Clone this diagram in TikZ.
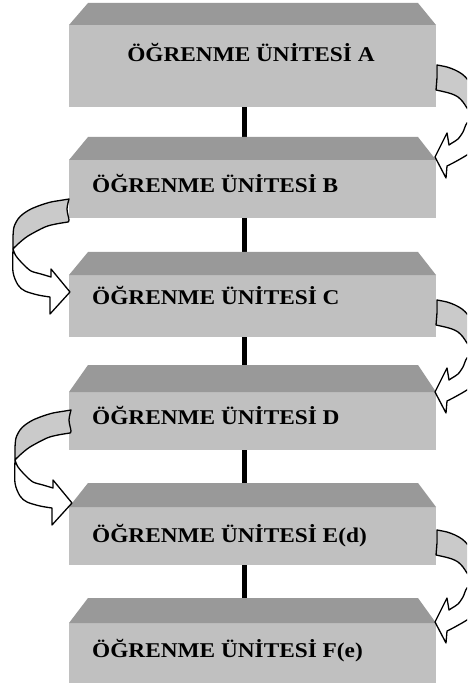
\documentclass[tikz,border=0pt]{standalone}
\usepackage{fontspec}
\setmainfont{Liberation Serif}
\usetikzlibrary{calc}
\definecolor{facegray}{RGB}{192,192,192}
\definecolor{topgray}{RGB}{153,153,153}
\definecolor{ribbongray}{RGB}{202,202,202}
\tikzset{
  face/.style={fill=facegray, draw=none, inner sep=0pt, outer sep=0pt,
    minimum width=367pt, anchor=north west},
  lbl/.style={font=\fontsize{21}{24}\selectfont\bfseries, inner sep=0pt},
  link/.style={line width=5.5pt},
  ribbon/.style={fill=ribbongray, draw=black, line width=1.3pt, line join=round},
  ribbonfront/.style={fill=white, draw=black, line width=1.3pt, line join=round},
  % twisted ribbon arrow on the right side; pic origin = arrow tip
  pics/turnright/.style={code={
    \path[ribbon] plot[smooth] coordinates {(2,-92) (12,-90) (20,-87) (27,-83) (33,-77) (38,-67) (41,-52) (41,-39)}
      -- plot[smooth] coordinates {(41,-39) (37,-43) (32,-49) (28,-55) (23,-60) (17,-63) (10,-65) (1,-67)}
      -- plot[smooth] coordinates {(1,-67) (2,-80) (2,-92)} -- cycle;
    \path[ribbonfront] (41,-39)
      -- plot[smooth] coordinates {(41,-39) (32,-34) (28,-25) (23,-18) (17,-14) (14,-12)}
      -- (12,-24) -- (0,0) -- (11,21) -- (12,9)
      -- plot[smooth] coordinates {(12,9) (18,6) (27,1) (32,-2) (38,-11) (41,-25) (41,-39)} -- cycle;
  }},
  % twisted ribbon arrow on the left side; pic origin = arrow tip
  pics/turnleft/.style={code={
    \path[ribbon] plot[smooth] coordinates {(-1,-93) (-7,-92) (-19,-90) (-29,-87) (-39,-83) (-47,-78) (-52,-73) (-56,-65) (-57,-55) (-57,-43)}
      -- plot[smooth] coordinates {(-57,-43) (-52,-48) (-42,-56) (-25,-65) (-14,-68) (-2,-70)}
      -- plot[smooth] coordinates {(-2,-70) (-1,-72) (-3,-83) (-1,-93)} -- cycle;
    \path[ribbonfront] (-57,-43)
      -- plot[smooth] coordinates {(-57,-43) (-57,-20) (-52,-7) (-45,-1) (-32,3) (-20,5)}
      -- (-20,22) -- (0,0) -- (-19,-23) -- (-19,-15)
      -- plot[smooth] coordinates {(-19,-15) (-29,-18) (-39,-21) (-47,-28) (-54,-36) (-57,-43)} -- cycle;
  }},
}
% sloped top face of a unit box
\newcommand\drawbevel[2]{%
  \fill[topgray] (#1.north west) -- ++(19,-#2) -- ($(#1.north east)+(-18,-#2)$) -- (#1.north east) -- cycle;}
\begin{document}
\begin{tikzpicture}[x=1pt,y=-1pt]
  \useasboundingbox (0,0) rectangle (467,684);
  \clip (0,0) rectangle (467,684);

  % front faces of the units
  \node[face, minimum height=82pt] (A) at (69,25) {};
  \node[face, minimum height=58pt] (B) at (69,160) {};
  \node[face, minimum height=62pt] (C) at (69,275) {};
  \node[face, minimum height=58pt] (D) at (69,392) {};
  \node[face, minimum height=58pt] (E) at (69,507) {};
  \node[face, minimum height=60pt] (F) at (69,623) {};

  % vertical links between the units
  \foreach \u/\v in {A/B, B/C, C/D, D/E, E/F}
    \draw[link] ([xshift=-8pt]\u.south) -- ([xshift=-8pt]\v.north);

  % top faces
  \drawbevel{A}{22}
  \drawbevel{B}{23}
  \drawbevel{C}{23}
  \drawbevel{D}{27}
  \drawbevel{E}{24}
  \drawbevel{F}{25}

  % labels
  \node[lbl, anchor=base] (tA) at (251,62) {\scalebox{1.11}[1]{ÖĞRENME ÜNİTESİ A}};
  \node[lbl, anchor=base west] (tB) at (92,193) {\scalebox{1.11}[1]{ÖĞRENME ÜNİTESİ B}};
  \node[lbl, anchor=base west] (tC) at (92,304) {\scalebox{1.11}[1]{ÖĞRENME ÜNİTESİ C}};
  \node[lbl, anchor=base west] (tD) at (92,424) {\scalebox{1.11}[1]{ÖĞRENME ÜNİTESİ D}};
  \node[lbl, anchor=base west] (tE) at (92,542) {\scalebox{1.11}[1]{ÖĞRENME ÜNİTESİ E(d)}};
  \node[lbl, anchor=base west] (tF) at (92,657) {\scalebox{1.11}[1]{ÖĞRENME ÜNİTESİ F(e)}};

  % turning arrows from one unit to the next
  \pic at ($(B.north east)+(-1,-3)$) {turnright};
  \pic at ($(C.north west)+(1,17)$) {turnleft};
  \pic at ($(D.north east)+(-1,0)$) {turnright};
  \pic at ($(E.north west)+(3,-4)$) {turnleft};
  \pic at ($(F.north east)+(-1,-1)$) {turnright};
\end{tikzpicture}
\end{document}
